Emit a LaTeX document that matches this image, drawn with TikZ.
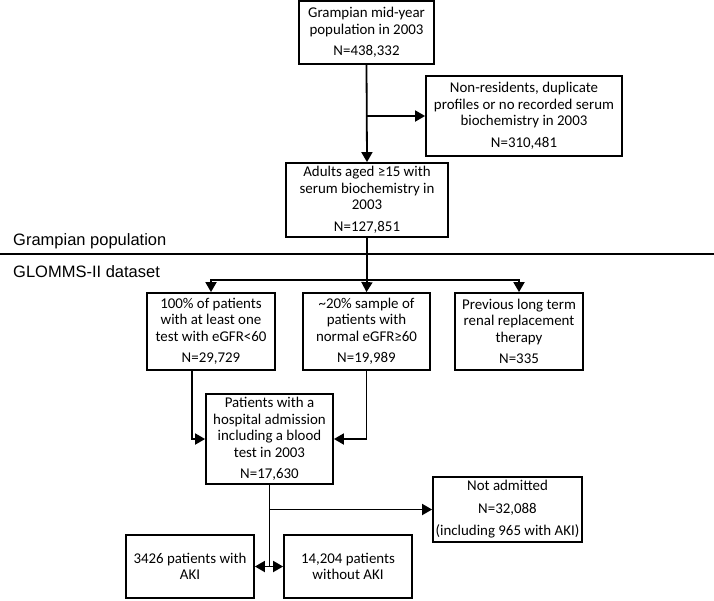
\documentclass[tikz,border=0pt]{standalone}
\usepackage{fontspec}
\setmainfont{Carlito}
\newfontfamily\labelfont{Liberation Sans}
\usetikzlibrary{calc,arrows.meta}

\begin{document}
\begin{tikzpicture}[x=1pt, y=-1pt,
    box/.style={draw, line width=1.8pt, align=center, inner sep=0pt,
        font=\fontsize{14.9}{16.5}\selectfont},
    arr/.style={line width=1.8pt, -{Triangle[length=10pt,width=11pt]}},
    line/.style={line width=1.8pt}]
        \useasboundingbox (0,0) rectangle (714,600);

        % boxes, top part
        \node[box, minimum width=135, minimum height=63] (mid) at (366.5,32.5)
            {Grampian mid-year\\population in 2003\\[5pt]N=438,332};
        \node[box, minimum width=196, minimum height=80] (excl) at (524,116)
            {Non-residents, duplicate\\profiles or no recorded serum\\biochemistry in 2003\\[5pt]N=310,481};
        \node[box, minimum width=162, minimum height=74] (adults) at (367,200)
            {Adults aged ≥15 with\\serum biochemistry in\\2003\\[5pt]N=127,851};

        % separator
        \coordinate (sepL) at (0,254);
        \coordinate (sepR) at (714,254);
        \draw[line width=1.2pt] (sepL) -- (sepR);
        \node[anchor=base west, inner sep=0pt, font=\labelfont\fontsize{16.5}{18}\selectfont] (grampop) at (13,245) {Grampian population};
        \node[anchor=base west, inner sep=0pt, font=\labelfont\fontsize{16.5}{18}\selectfont] (glomms) at (13,277) {GLOMMS-II dataset};

        % boxes, GLOMMS-II part
        \node[box, minimum width=128, minimum height=77] (low) at (211,331.5)
            {100\% of patients\\with at least one\\test with eGFR<60\\[5pt]N=29,729};
        \node[box, minimum width=127, minimum height=77] (normal) at (366.5,331.5)
            {\textasciitilde20\% sample of\\patients with\\normal eGFR≥60\\[5pt]N=19,989};
        \node[box, minimum width=128, minimum height=77] (rrt) at (519,331.5)
            {Previous long term\\renal replacement\\therapy\\[5pt]N=335};
        \node[box, minimum width=127, minimum height=90] (adm) at (269.5,439)
            {Patients with a\\hospital admission\\including a blood\\test in 2003\\[5pt]N=17,630};
        \node[box, minimum width=149, minimum height=65, font=\fontsize{14.9}{22.5}\selectfont] (notadm) at (507.5,509.5)
            {Not admitted\\N=32,088\\(including 965 with AKI)};
        \node[box, minimum width=128, minimum height=63] (aki) at (190,566.5)
            {3426 patients with\\AKI};
        \node[box, minimum width=128, minimum height=63] (noaki) at (348,566.5)
            {14,204 patients\\without AKI};

        % arrows
        \draw[arr] (mid.south) -- (adults.north);
        \draw[arr] (mid.south |- excl.west) -- (excl.west);
        \coordinate (split) at (367,280);
        \draw[line] (adults.south) -- (split);
        \draw[arr] (split) -| (low.north);
        \draw[arr] (split) -- (normal.north);
        \draw[arr] (split) -| (rrt.north);
        \draw[arr] ([xshift=-19pt]low.south) |- (adm.west);
        \draw[arr] (normal.south) |- (adm.east);
        \draw[line] (adm.south) -- (adm.south |- aki.east);
        \draw[arr] (adm.south |- notadm.west) -- (notadm.west);
        \draw[arr, {Triangle[length=10pt,width=11pt]}-{Triangle[length=10pt,width=11pt]}] (aki.east) -- (noaki.west);
        \end{tikzpicture}
\end{document}
